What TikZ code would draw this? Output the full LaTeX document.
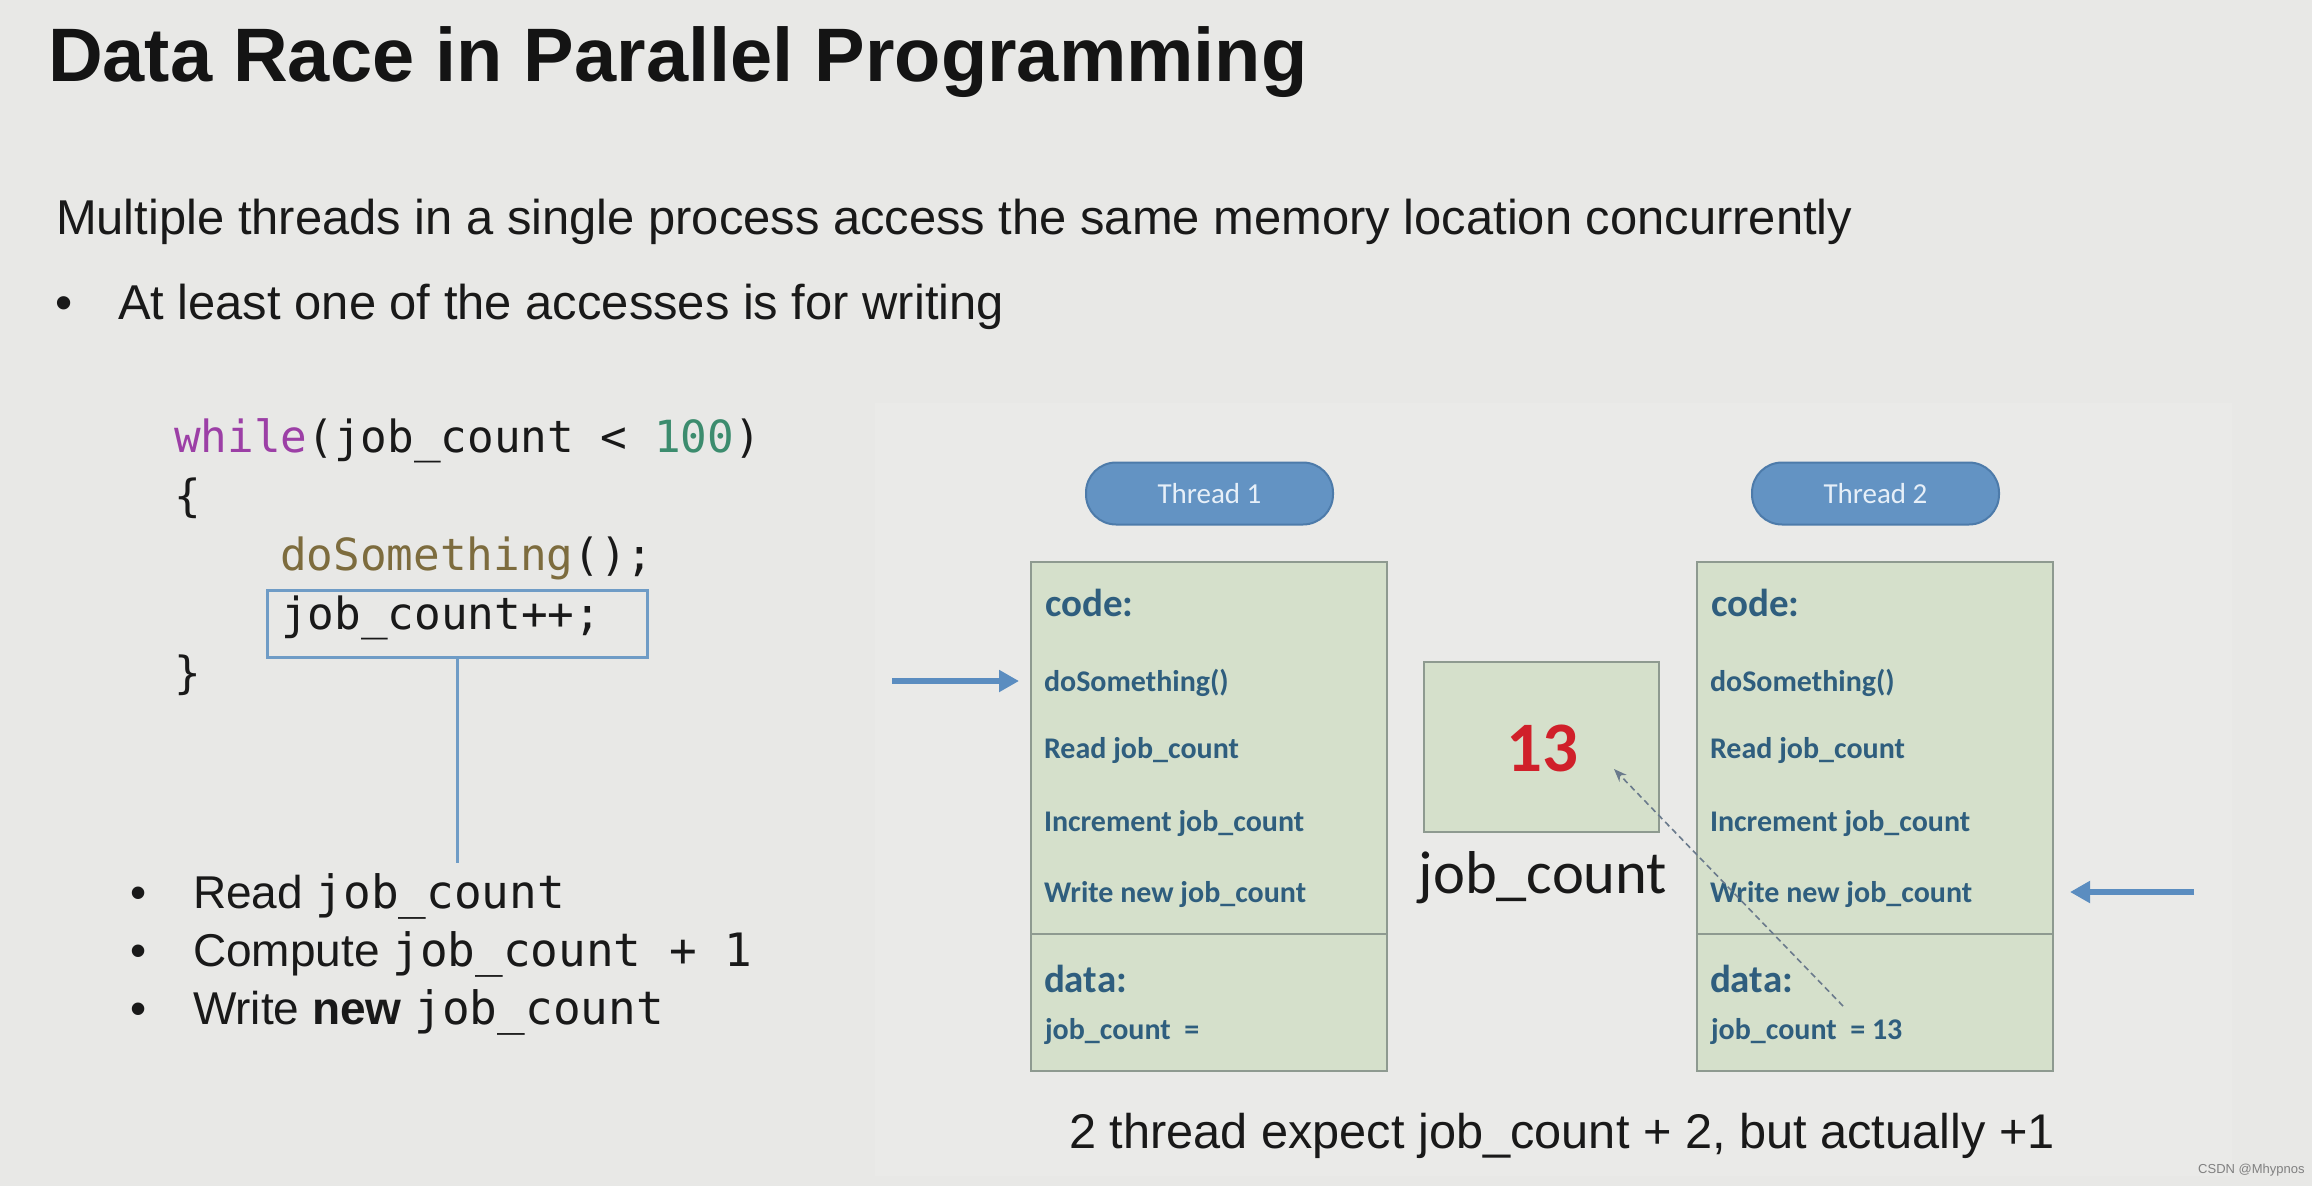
\documentclass[tikz,border=0pt]{standalone}
\usepackage{fontspec}
\setmainfont{Liberation Sans}
\newfontfamily\calib{Carlito}
\newfontfamily\codefont{DejaVu Sans Mono}
\usetikzlibrary{arrows.meta}
\definecolor{bgc}{HTML}{E8E8E6}
\definecolor{panelc}{HTML}{EAEAE8}
\definecolor{kwc}{HTML}{9C3FA6}
\definecolor{numc}{HTML}{3C8C6E}
\definecolor{fnc}{HTML}{7D6C3E}
\definecolor{boxline}{HTML}{6F9CC6}
\definecolor{gfill}{HTML}{D5E0CB}
\definecolor{gline}{HTML}{8E9A90}
\definecolor{tealtxt}{HTML}{2F5E7E}
\definecolor{pillfill}{HTML}{6393C3}
\definecolor{pillline}{HTML}{4D7BAA}
\definecolor{pilltxt}{HTML}{E6EFF8}
\definecolor{arrc}{HTML}{5B8DC0}
\definecolor{redc}{HTML}{D0202A}
\definecolor{dashc}{HTML}{6A7A8C}
\tikzset{
  txt/.style={inner sep=0pt, outer sep=0pt, anchor=base west},
  titlefont/.style={font=\fontsize{75.8}{90}\selectfont\bfseries, text=black!92},
  bodyfont/.style={font=\fontsize{48.9}{58}\selectfont, text=black!90},
  codestyle/.style={font=\fontsize{44.3}{54}\codefont, text=black!90},
  bulfont/.style={font=\fontsize{46}{54}\selectfont, text=black!90},
  threadbox/.style={draw=gline, line width=2pt, fill=gfill, inner sep=0pt, minimum width=356pt, minimum height=509pt},
  pill/.style={draw=pillline, line width=2pt, fill=pillfill, rounded corners=30pt, minimum width=247pt, minimum height=62pt, inner sep=0pt, font=\fontsize{29}{34}\calib, text=pilltxt},
  itemtxt/.style={txt, font=\fontsize{30}{36}\calib\bfseries, text=tealtxt},
  headtxt/.style={txt, font=\fontsize{39}{46}\calib\bfseries, text=tealtxt},
  bluearrow/.style={draw=arrc, line width=5.5pt, -{Triangle[length=20pt,width=21pt]}},
  dasharrow/.style={draw=dashc, line width=1.6pt, dash pattern=on 6pt off 4pt, -{Stealth[length=13pt,width=10pt]}},
}
\begin{document}
\begin{tikzpicture}[x=1pt,y=-1pt]
\useasboundingbox (0,0) rectangle (2312,1186);
\fill[bgc] (0,0) rectangle (2312,1186);
\fill[panelc] (875,403) rectangle (2232,1176);

% title and intro
\node[txt, titlefont] (title) at (48,81) {Data Race in Parallel Programming};
\node[txt, bodyfont] (sub) at (56,234) {Multiple threads in a single process access the same memory location concurrently};
\node[txt, bodyfont] (b0) at (55,319) {\char"2022};
\node[txt, bodyfont] (b0t) at (118,319) {At least one of the accesses is for writing};

% code
\node[txt, codestyle] (c1) at (174,452) {\textcolor{kwc}{while}(job\_count < \textcolor{numc}{100})};
\node[txt, codestyle] (c2) at (174,511) {\{};
\node[txt, codestyle] (c3) at (280,570) {\textcolor{fnc}{doSomething}();};
\node[txt, codestyle] (c4) at (281,629) {job\_count++;};
\node[txt, codestyle] (c5) at (174,688) {\}};
\node[draw=boxline, line width=3pt, minimum width=380pt, minimum height=67pt, inner sep=0pt] (incbox) at (457,623.5) {};
\coordinate (linkend) at (457,863);
\draw[boxline, line width=3pt] (incbox.south) -- (linkend);

% lower bullets
\node[txt, bulfont] (l1b) at (130,908) {\char"2022};
\node[txt, bulfont] (l1) at (193,908) {Read {\codefont job\_count}};
\node[txt, bulfont] (l2b) at (130,966) {\char"2022};
\node[txt, bulfont] (l2) at (193,966) {Compute {\codefont job\_count + 1}};
\node[txt, bulfont] (l3b) at (130,1024) {\char"2022};
\node[txt, bulfont] (l3) at (193,1024) {Write \textbf{new} {\codefont job\_count}};

% threads
\node[pill] (p1) at (1209.5,493.5) {Thread 1};
\node[pill] (p2) at (1875.5,493.5) {Thread 2};
\node[threadbox] (box1) at (1208.5,816.5) {};
\node[threadbox] (box2) at (1874.5,816.5) {};
\draw[gline, line width=1.5pt] (1031,934) -- (1386,934);
\draw[gline, line width=1.5pt] (1697,934) -- (2052,934);

\node[headtxt] (t1h) at (1045,616) {code:};
\node[itemtxt] (t1a) at (1044,691) {doSomething()};
\node[itemtxt] (t1b) at (1044,758) {Read job\_count};
\node[itemtxt] (t1c) at (1044,831) {Increment job\_count};
\node[itemtxt] (t1d) at (1044,902) {Write new job\_count};
\node[headtxt] (t1e) at (1044,992) {data:};
\node[itemtxt] (t1f) at (1045,1039) {job\_count\ \ =};

\node[headtxt] (t2h) at (1711,616) {code:};
\node[itemtxt] (t2a) at (1710,691) {doSomething()};
\node[itemtxt] (t2b) at (1710,758) {Read job\_count};
\node[itemtxt] (t2c) at (1710,831) {Increment job\_count};
\node[itemtxt] (t2d) at (1710,902) {Write new job\_count};
\node[headtxt] (t2e) at (1710,992) {data:};
\node[itemtxt] (t2f) at (1711,1039) {job\_count\ \ = 13};

% shared variable
\node[draw=gline, line width=2pt, fill=gfill, minimum width=235pt, minimum height=170pt, inner sep=0pt] (mem) at (1541.5,747) {};
\node[inner sep=0pt, anchor=base, font=\fontsize{71}{80}\calib\bfseries, text=redc] (val) at (1542,771) {13};
\node[inner sep=0pt, anchor=base, font=\fontsize{60.5}{70}\calib, text=black!90] (memlbl) at (1543,893) {job\_count};

% arrows
\coordinate (a1s) at (892,681);
\coordinate (a1e) at (1019,681);
\draw[bluearrow] (a1s) -- (a1e);
\coordinate (a2s) at (2194,892);
\coordinate (a2e) at (2070,892);
\draw[bluearrow] (a2s) -- (a2e);
\coordinate (ds) at (1843,1006);
\coordinate (de) at (1614,769);
\draw[dasharrow] (ds) -- (de);

% bottom text
\node[inner sep=0pt, anchor=base west, font=\fontsize{48.7}{56}\selectfont, text=black!90] (concl) at (1069,1148) {2 thread expect job\_count + 2, but actually +1};
\node[inner sep=0pt, anchor=base west, font=\fontsize{13}{15}\selectfont, text=black!50] (wm) at (2198,1173) {CSDN @Mhypnos};
\end{tikzpicture}
\end{document}
